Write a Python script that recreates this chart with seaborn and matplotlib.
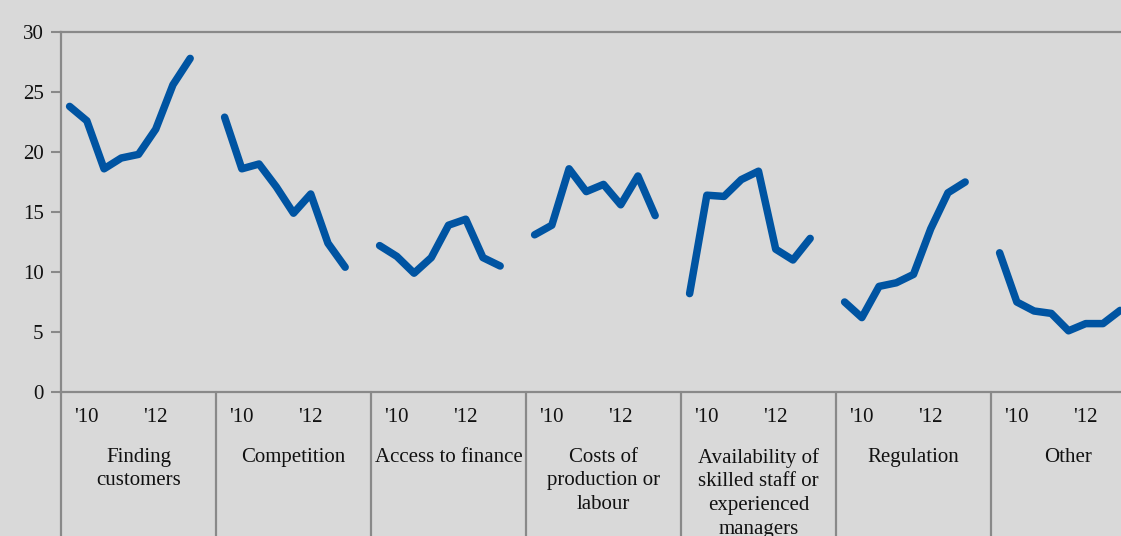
import numpy as np
import pandas as pd
import matplotlib
matplotlib.use("Agg")
import matplotlib.pyplot as plt
import seaborn as sns

# ---- data ----
groups = ["Finding\ncustomers", "Competition", "Access to finance",
          "Costs of\nproduction or\nlabour",
          "Availability of\nskilled staff or\nexperienced\nmanagers",
          "Regulation", "Other"]
finding_customers = [23.8, 22.6, 18.6, 19.5, 19.8, 21.9, 25.6, 27.8]
competition = [22.9, 18.6, 19.0, 17.1, 14.9, 16.5, 12.4, 10.4]
access_to_finance = [12.2, 11.3, 9.9, 11.2, 13.9, 14.4, 11.2, 10.5]
costs_of_production = [13.1, 13.9, 18.6, 16.7, 17.3, 15.6, 18.0, 14.7]
availability_of_staff = [8.2, 16.4, 16.3, 17.7, 18.4, 11.9, 11.0, 12.8]
regulation = [7.5, 6.2, 8.8, 9.1, 9.8, 13.6, 16.6, 17.5]
other = [11.6, 7.5, 6.75, 6.55, 5.1, 5.7, 5.7, 6.8]
series = [finding_customers, competition, access_to_finance, costs_of_production,
          availability_of_staff, regulation, other]
year_labels = ["'10", "'12"]
year_label_index = [1, 5]
yticks = [0, 5, 10, 15, 20, 25, 30]

SLOTS = 9  # 8 half-year points + one empty slot per group

rows = []
for g, vals in enumerate(series):
    for i, v in enumerate(vals):
        rows.append({"group": g, "pos": g * SLOTS + i, "value": v})
df = pd.DataFrame(rows)

# ---- style ----
BG = "#d9d9d9"
GRID = "#898989"
LINE = "#0054a2"
FS = 15
sns.set_theme(style="white")
plt.rcParams["font.family"] = ["Liberation Serif", "DejaVu Serif"]
plt.rcParams["axes.facecolor"] = BG
plt.rcParams["figure.facecolor"] = BG

W, H = 1121, 536
fig = plt.figure(figsize=(W / 100, H / 100), dpi=100)
left_px, top_px, bottom_px = 61, 32, 392
n_slots = len(groups) * SLOTS
slot_px = 155 / SLOTS
right_px = left_px + n_slots * slot_px
ax = fig.add_axes([left_px / W, 1 - bottom_px / H,
                   (right_px - left_px) / W, (bottom_px - top_px) / H])
ax.set_facecolor(BG)

sns.lineplot(data=df, x="pos", y="value", units="group", estimator=None,
             color=LINE, linewidth=5.4, ax=ax, legend=False,
             solid_capstyle="round", solid_joinstyle="round")

ax.set_xlim(-0.5, n_slots - 0.5)
ax.set_ylim(0, 30)
ax.set_yticks(yticks)
ax.set_yticklabels([str(t) for t in yticks], fontsize=FS, color="#111111")
ax.tick_params(axis="y", direction="out", length=7.5, width=1.5, color=GRID,
               left=True, pad=5)
ax.set_xticks([])
ax.set_xlabel("")
ax.set_ylabel("")
for s in ax.spines.values():
    s.set_color(GRID)
    s.set_linewidth(1.6)

trans = ax.get_xaxis_transform()
for g in range(len(groups) + 1):
    xb = g * SLOTS - 0.5
    ax.plot([xb, xb], [0, -0.5], transform=trans, color=GRID, lw=1.6,
            clip_on=False, zorder=1)

for g, name in enumerate(groups):
    for lab, idx in zip(year_labels, year_label_index):
        ax.text(g * SLOTS + idx, -0.071, lab, transform=trans, ha="center",
                va="center", fontsize=FS, color="#111111")
    ax.text(g * SLOTS + 4, -0.155, name, transform=trans, ha="center",
            va="top", fontsize=FS, color="#111111", linespacing=1.33)

fig.savefig("out.png", dpi=100, facecolor=BG)
